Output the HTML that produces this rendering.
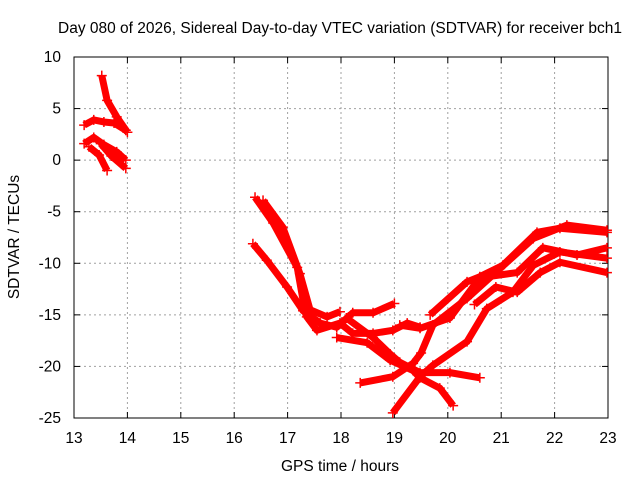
<!DOCTYPE html>
<html><head><meta charset="utf-8"><style>
body{margin:0;background:#fff}
svg text{font-family:"Liberation Sans",sans-serif;font-size:15.5px;fill:#000}
</style></head><body>
<svg id="chart" width="640" height="480" xmlns="http://www.w3.org/2000/svg">
<text x="340" y="33" text-anchor="middle">Day 080 of 2026, Sidereal Day-to-day VTEC variation (SDTVAR) for receiver bch1</text>
<text x="340" y="471" text-anchor="middle">GPS time / hours</text>
<text transform="translate(19,237) rotate(-90)" text-anchor="middle">SDTVAR / TECUs</text>
<g id="grid"></g><g id="axes"></g><g id="series"></g>
</svg>
<script>
const xTicks=[13,14,15,16,17,18,19,20,21,22,23];
const yTicks=[10,5,0,-5,-10,-15,-20,-25];
const tracks=[
[[13.52,8.2],[13.62,5.8],[13.8,4.2],[14.0,2.7]],
[[13.19,3.4],[13.37,3.9],[13.56,3.7],[13.75,3.6],[13.97,2.9]],
[[13.19,1.6],[13.37,2.2],[13.56,1.5],[13.8,0.8],[13.97,0]],
[[13.28,1.3],[13.47,0.5],[13.62,-1.0]],
[[13.5,1.6],[13.7,0.4],[13.97,-0.8]],
[[16.39,-3.6],[16.73,-6.1],[17.18,-10.4],[17.29,-13.6],[17.36,-15.2],[17.55,-16.5],[17.98,-15.8],[18.22,-16.8],[18.6,-16.8],[18.97,-16.5],[19.24,-15.8],[19.48,-16.2]],
[[16.54,-3.9],[16.91,-6.5],[17.23,-11],[17.42,-14.5],[17.74,-15.2],[17.98,-14.7]],
[[16.35,-8.1],[16.61,-9.7],[16.99,-12.3],[17.29,-14.6],[17.61,-15.8],[17.92,-16.2],[18.22,-14.8],[18.6,-14.8],[19.0,-13.9]],
[[17.92,-17.2],[18.49,-17.7],[18.92,-19.4],[19.35,-20.4],[19.48,-21.1],[19.85,-22.1],[20.1,-23.8]],
[[18.1,-15.3],[18.6,-17.2],[18.92,-18.8],[19.1,-19.6],[19.48,-20.6],[20.04,-20.6],[20.6,-21.1]],
[[18.36,-21.6],[18.97,-21.0],[19.35,-19.7],[19.5,-18.7],[19.72,-16],[20.36,-13.4],[20.98,-10.5],[21.6,-7.6],[22.23,-6.3],[22.98,-6.8]],
[[18.97,-24.5],[19.48,-21],[19.72,-19.9],[20.36,-17.6],[20.73,-14.4],[21.22,-12.8],[21.6,-10.2],[22.1,-8.9],[22.98,-9.5]],
[[19.1,-16],[19.48,-16.3],[20.04,-15.3],[20.6,-11.4],[21.3,-10.9],[21.78,-8.5],[22.42,-9.2],[22.98,-8.5]],
[[19.67,-15],[20.36,-11.8],[20.6,-11.3],[21.03,-10.2],[21.67,-7],[22.1,-6.6],[22.98,-7.0]],
[[20.5,-14],[20.9,-12.3],[21.3,-12.8],[21.73,-10.9],[22.1,-9.9],[22.98,-10.9]]
];
const L=74,R=608,T=57,B=418,ns="http://www.w3.org/2000/svg";
const xs=h=>L+(h-13)/(23-13)*(R-L);
const ys=v=>T+(10-v)/35*(B-T);
function mk(tag,at,par){const e=document.createElementNS(ns,tag);for(const k in at)e.setAttribute(k,at[k]);document.getElementById(par).appendChild(e);return e;}
xTicks.forEach(t=>{const x=xs(t);
 if(t>13&&t<23){const g=mk('line',{x1:x,x2:x,y1:T,y2:B,stroke:'#a0a0a0','stroke-dasharray':'2,3'},'grid');
 
 }
 mk('line',{x1:x,x2:x,y1:B,y2:B-6,stroke:'#000'},'axes');mk('line',{x1:x,x2:x,y1:T,y2:T+6,stroke:'#000'},'axes');
 const tx=mk('text',{x:x,y:443,'text-anchor':'middle'},'axes');tx.textContent=t;
 
 });
yTicks.forEach(t=>{const y=ys(t);
 if(t<10&&t>-25){const g=mk('line',{x1:L,x2:R,y1:y,y2:y,stroke:'#a0a0a0','stroke-dasharray':'2,3'},'grid');
 
 }
 mk('line',{x1:L,x2:L+6,y1:y,y2:y,stroke:'#000'},'axes');mk('line',{x1:R,x2:R-6,y1:y,y2:y,stroke:'#000'},'axes');
 const tx=mk('text',{x:61,y:y+5,'text-anchor':'end'},'axes');tx.textContent=t;
 
 });
const fr=mk('rect',{x:L,y:T,width:R-L,height:B-T,fill:'none',stroke:'#000'},'axes');


tracks.forEach((tr,i)=>{
 const p=mk('polyline',{points:tr.map(d=>xs(d[0])+','+ys(d[1])).join(' '),fill:'none',stroke:'#f00','stroke-width':7,'stroke-linejoin':'round','stroke-linecap':'butt'},'series');
 
 
 tr.forEach(d=>{const x=xs(d[0]),y=ys(d[1]);
  const m=mk('path',{d:`M${x-5},${y}H${x+5}M${x},${y-5}V${y+5}`,stroke:'#f00','stroke-width':1.5},'series');
  
  });
});
</script>
</body></html>
